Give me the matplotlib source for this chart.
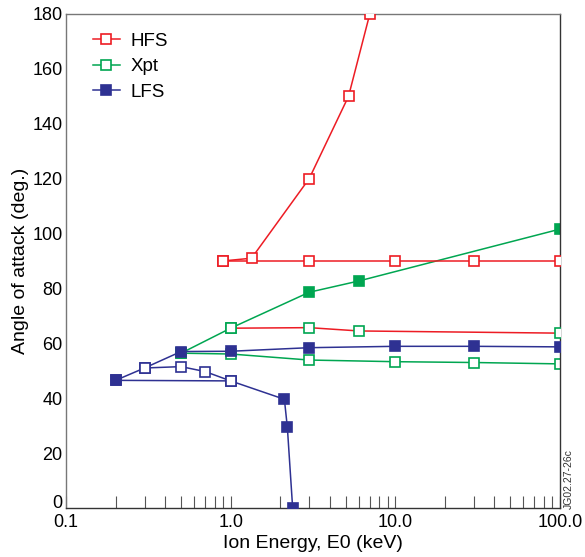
import matplotlib
matplotlib.use("Agg")
import matplotlib.pyplot as plt
from matplotlib.lines import Line2D
from matplotlib.ticker import FixedLocator, LogLocator, NullFormatter

plt.rcParams['font.family'] = ['Liberation Sans', 'DejaVu Sans']

red = '#ed1c24'
green = '#00a651'
blue = '#2e3192'

# data: (x, y, filled flags)
hfs_up_x = [0.9, 1.34, 3.0, 5.2, 7.0]
hfs_up_y = [90, 91, 120, 150, 180]
hfs_up_f = [0, 0, 0, 0, 0]

hfs_flat_x = [0.9, 3.0, 10.0, 30.0, 100.0]
hfs_flat_y = [90, 90, 90, 90, 90]
hfs_flat_f = [0, 0, 0, 0, 0]

# red line, green markers in the original
hfs_low_x = [1.0, 3.0, 6.0, 100.0]
hfs_low_y = [65.5, 65.7, 64.5, 63.7]
hfs_low_f = [0, 0, 0, 0]

xpt_up_x = [0.5, 1.0, 3.0, 6.0, 100.0]
xpt_up_y = [56.4, 65.5, 78.6, 82.7, 101.6]
xpt_up_f = [0, 0, 1, 1, 1]

xpt_low_x = [0.5, 1.0, 3.0, 10.0, 30.0, 100.0]
xpt_low_y = [56.4, 56.1, 53.9, 53.3, 53.0, 52.5]
xpt_low_f = [0, 0, 0, 0, 0, 0]

lfs_up_x = [0.2, 0.3, 0.5, 1.0, 3.0, 10.0, 30.0, 100.0]
lfs_up_y = [46.5, 51.0, 57.0, 57.1, 58.4, 58.9, 58.9, 58.7]
lfs_up_f = [1, 0, 1, 1, 1, 1, 1, 1]

lfs_mid_x = [0.3, 0.5, 0.7, 1.0]
lfs_mid_y = [51.0, 51.5, 49.7, 46.3]
lfs_mid_f = [0, 0, 0, 0]

lfs_down_x = [0.2, 1.0, 2.12, 2.21, 2.38]
lfs_down_y = [46.5, 46.3, 39.6, 29.4, 0.0]
lfs_down_f = [1, 0, 1, 1, 1]

x_ticks = [0.1, 1.0, 10.0, 100.0]
x_labels = ['0.1', '1.0', '10.0', '100.0']
y_ticks = list(range(0, 181, 20))

fig = plt.figure(figsize=(5.85, 5.57), dpi=100)
ax = fig.add_axes([0.1128, 0.088, 0.8444, 0.887])

ms = 7.5
mew = 1.2
lw = 1.1


def series(x, y, filled, line_color, mark_color, z):
    ax.plot(x, y, color=line_color, lw=lw, zorder=z)
    for xi, yi, fi in zip(x, y, filled):
        ax.plot([xi], [yi], ls='none', marker='s', ms=ms, mew=mew,
                mec=mark_color, mfc=mark_color if fi else 'white', zorder=z + 0.5)


series(hfs_up_x, hfs_up_y, hfs_up_f, red, red, 3)
series(hfs_flat_x, hfs_flat_y, hfs_flat_f, red, red, 3)
series(xpt_up_x, xpt_up_y, xpt_up_f, green, green, 2)
series(xpt_low_x, xpt_low_y, xpt_low_f, green, green, 2)
series(hfs_low_x, hfs_low_y, hfs_low_f, red, green, 2.1)
series(lfs_up_x, lfs_up_y, lfs_up_f, blue, blue, 4)
series(lfs_mid_x, lfs_mid_y, lfs_mid_f, blue, blue, 4)
series(lfs_down_x, lfs_down_y, lfs_down_f, blue, blue, 4)

ax.set_xscale('log')
ax.set_xlim(0.1, 100)
ax.set_ylim(0, 180)
ax.xaxis.set_major_locator(FixedLocator(x_ticks))
ax.set_xticklabels(x_labels)
ax.xaxis.set_minor_locator(LogLocator(base=10, subs=range(2, 10)))
ax.xaxis.set_minor_formatter(NullFormatter())
ax.set_yticks(y_ticks)
ax.tick_params(axis='x', which='both', direction='in', length=9, width=0.8,
               color='#555555', labelsize=13, pad=4)
ax.tick_params(axis='y', length=0, labelsize=13, pad=2.5)
# bottom "0" sits on top of the axis line
ax.get_yticklabels()[0].set_verticalalignment('baseline')

for s in ['top', 'left']:
    ax.spines[s].set_color('#777777')
for s in ['bottom', 'right']:
    ax.spines[s].set_color('#333333')
for s in ax.spines.values():
    s.set_linewidth(1.0)

ax.set_xlabel('Ion Energy, E0 (keV)', fontsize=14, labelpad=3)
ax.set_ylabel('Angle of attack (deg.)', fontsize=14, labelpad=2)

handles = [
    Line2D([], [], color=red, lw=lw, marker='s', ms=ms, mew=mew, mec=red, mfc='white'),
    Line2D([], [], color=green, lw=lw, marker='s', ms=ms, mew=mew, mec=green, mfc='white'),
    Line2D([], [], color=blue, lw=lw, marker='s', ms=ms, mew=mew, mec=blue, mfc=blue),
]
ax.legend(handles, ['HFS', 'Xpt', 'LFS'], loc='upper left', frameon=False,
          fontsize=13.5, handlelength=1.45, handletextpad=0.58, labelspacing=0.45,
          borderaxespad=0.4, bbox_to_anchor=(0.024, 0.993))

fig.text(0.972, 0.087, 'JG02.27-26c', rotation=90, fontsize=7.5,
         ha='center', va='bottom', color='#333333')

fig.savefig('out.png', dpi=100)
